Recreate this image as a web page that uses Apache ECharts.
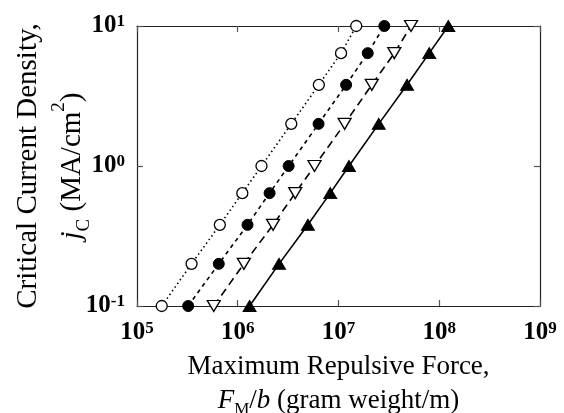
<!DOCTYPE html>
<html>
<head>
<meta charset="utf-8">
<script src="https://cdn.jsdelivr.net/npm/echarts@6/dist/echarts.min.js"></script>
<style>
  html, body { margin: 0; padding: 0; background: #fff; }
  #main { width: 564px; height: 413px; }
</style>
</head>
<body>
<div id="main"></div>
<script>
// j_C values (MA/cm^2), shared by all four series
const jcValues = [0.1, 0.2, 0.38, 0.64, 1, 2, 3.8, 6.4, 10];

// F_M/b (gram weight/m) for each series
const openCircleX = [1.76e5, 3.48e5, 6.64e5, 1.11e6, 1.72e6, 3.40e6, 6.38e6, 1.06e7, 1.50e7];
const filledCircleX = [3.22e5, 6.48e5, 1.25e6, 2.07e6, 3.2e6, 6.34e6, 1.19e7, 1.95e7, 2.85e7];
const openTriX = [5.78e5, 1.15e6, 2.24e6, 3.72e6, 5.78e6, 1.15e7, 2.14e7, 3.58e7, 5.25e7];
const filledTriX = [1.31e6, 2.57e6, 4.97e6, 8.28e6, 1.27e7, 2.51e7, 4.79e7, 7.96e7, 1.23e8];

const xRange = [1e5, 1e9];
const yRange = [0.1, 10];

const serif = 'Liberation Serif';

function pairs(xs) {
  return xs.map((x, i) => [x, jcValues[i]]);
}

// tick label like 10^5 as rich text
function powLabel(v) {
  const e = Math.round(Math.log10(v));
  return '{b|10}{s|' + e + '}';
}

const tickRich = {
  b: { fontFamily: serif, fontWeight: 'bold', fontSize: 25, color: '#000', lineHeight: 26 },
  s: { fontFamily: serif, fontWeight: 'bold', fontSize: 17, color: '#000', verticalAlign: 'top', lineHeight: 14 }
};

const chart = echarts.init(document.getElementById('main'));

const frameLine = { show: true, lineStyle: { color: '#222', width: 1.2 } };
const innerTick = { show: true, inside: true, length: 6, lineStyle: { color: '#555', width: 1.2 } };

const option = {
  backgroundColor: '#fff',
  animation: false,
  grid: { left: 137, right: 24, top: 26, bottom: 107, containLabel: false, outerBoundsMode: 'none' },
  xAxis: [{
    type: 'log',
    logBase: 10,
    min: xRange[0],
    max: xRange[1],
    splitNumber: 4,
    axisLine: frameLine,
    axisTick: innerTick,
    splitLine: { show: false },
    minorTick: { show: false },
    axisLabel: {
      margin: 14,
      formatter: powLabel,
      rich: tickRich
    },
    name: 'Maximum Repulsive Force,\n{i|F}{sub|M}{n|/}{i|b}{n| (gram weight/m)}',
    nameLocation: 'middle',
    nameGap: 44,
    nameMoveOverlap: false,
    nameTextStyle: {
      fontFamily: serif,
      fontSize: 27,
      color: '#000',
      lineHeight: 34,
      rich: {
        i: { fontFamily: serif, fontStyle: 'italic', fontSize: 27, color: '#000' },
        sub: { fontFamily: serif, fontSize: 17, color: '#000', verticalAlign: 'bottom', lineHeight: 22 },
        n: { fontFamily: serif, fontSize: 27, color: '#000' }
      }
    }
  }, {
    type: 'log',
    logBase: 10,
    position: 'top',
    min: xRange[0],
    max: xRange[1],
    splitNumber: 4,
    axisLine: frameLine,
    axisTick: innerTick,
    axisLabel: { show: false },
    splitLine: { show: false }
  }],
  yAxis: [{
    type: 'log',
    logBase: 10,
    min: yRange[0],
    max: yRange[1],
    splitNumber: 2,
    axisLine: frameLine,
    axisTick: innerTick,
    splitLine: { show: false },
    axisLabel: {
      margin: 12,
      formatter: powLabel,
      rich: tickRich
    },
    name: 'Critical Current Density,\n{i|j}{sub|C}{n| (MA/cm}{sup|2}{n|)}',
    nameLocation: 'middle',
    nameGap: 43,
    nameMoveOverlap: false,
    nameTextStyle: {
      fontFamily: serif,
      fontSize: 29,
      color: '#000',
      lineHeight: 44,
      rich: {
        i: { fontFamily: serif, fontStyle: 'italic', fontSize: 29, color: '#000' },
        sub: { fontFamily: serif, fontSize: 19, color: '#000', verticalAlign: 'bottom', lineHeight: 24 },
        sup: { fontFamily: serif, fontSize: 19, color: '#000', verticalAlign: 'top', lineHeight: 24 },
        n: { fontFamily: serif, fontSize: 29, color: '#000' }
      }
    }
  }, {
    type: 'log',
    logBase: 10,
    position: 'right',
    min: yRange[0],
    max: yRange[1],
    splitNumber: 2,
    axisLine: frameLine,
    axisTick: innerTick,
    axisLabel: { show: false },
    splitLine: { show: false }
  }],
  series: [{
    name: 'open circle',
    type: 'line',
    data: pairs(openCircleX),
    clip: false,
    symbol: 'circle',
    symbolSize: 11,
    itemStyle: { color: '#fff', borderColor: '#000', borderWidth: 1.3 },
    lineStyle: { color: '#000', width: 1.6, type: [1.5, 3] },
    z: 4
  }, {
    name: 'filled circle',
    type: 'line',
    data: pairs(filledCircleX),
    clip: false,
    symbol: 'circle',
    symbolSize: 11,
    itemStyle: { color: '#000', borderColor: '#000', borderWidth: 1 },
    lineStyle: { color: '#000', width: 1.6, type: [4, 4] },
    z: 4
  }, {
    name: 'open triangle',
    type: 'line',
    data: pairs(openTriX),
    clip: false,
    symbol: 'triangle',
    symbolRotate: 180,
    symbolSize: [13, 11],
    itemStyle: { color: '#fff', borderColor: '#000', borderWidth: 1.3 },
    lineStyle: { color: '#000', width: 1.6, type: [8, 5] },
    z: 4
  }, {
    name: 'filled triangle',
    type: 'line',
    data: pairs(filledTriX),
    clip: false,
    symbol: 'triangle',
    symbolSize: [13, 11],
    itemStyle: { color: '#000', borderColor: '#000', borderWidth: 1 },
    lineStyle: { color: '#000', width: 1.6, type: 'solid' },
    z: 4
  }]
};

chart.setOption(option);
</script>
</body>
</html>
